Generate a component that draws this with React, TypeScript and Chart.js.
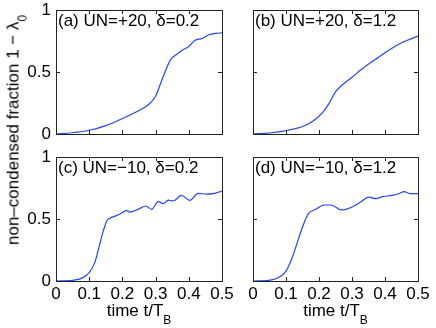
import React, { useEffect, useRef } from "react";
import { Chart, registerables } from "chart.js";
Chart.register(...registerables);

const W = 436;
const H = 328;
const FONT = '"Liberation Sans", Arial, Helvetica, sans-serif';
const LINE = "#2244ff";
const AXIS = "#222222";

const xTicks = [0, 0.1, 0.2, 0.3, 0.4, 0.5];
const yTicks = [0, 0.5, 1];

const titles = ["(a) UN=+20, δ=0.2", "(b) UN=+20, δ=1.2", "(c) UN=−10, δ=0.2", "(d) UN=−10, δ=1.2"];

// panel (a)
const tA = [0, 0.05, 0.1, 0.15, 0.2, 0.25, 0.28, 0.3, 0.318, 0.333, 0.345, 0.36, 0.38, 0.4, 0.418, 0.44, 0.46, 0.48, 0.5];
const vA = [0, 0.01, 0.03, 0.068, 0.125, 0.19, 0.24, 0.305, 0.43, 0.53, 0.6, 0.635, 0.675, 0.705, 0.755, 0.77, 0.8, 0.812, 0.815];
// panel (b)
const tB = [0, 0.05, 0.1, 0.15, 0.18, 0.21, 0.23, 0.25, 0.27, 0.3, 0.33, 0.37, 0.4, 0.44, 0.47, 0.5];
const vB = [0, 0.008, 0.027, 0.06, 0.1, 0.17, 0.245, 0.34, 0.395, 0.457, 0.524, 0.6, 0.656, 0.722, 0.758, 0.79];
// panel (c)
const tC = [0, 0.05, 0.08, 0.1, 0.117, 0.132, 0.142, 0.154, 0.165, 0.18, 0.197, 0.212, 0.222, 0.247, 0.27, 0.288, 0.308, 0.323, 0.338, 0.353, 0.378, 0.403, 0.428, 0.453, 0.473, 0.5];
const vC = [0, 0.005, 0.025, 0.067, 0.15, 0.3, 0.4, 0.49, 0.51, 0.525, 0.546, 0.57, 0.556, 0.578, 0.605, 0.578, 0.64, 0.624, 0.653, 0.645, 0.69, 0.65, 0.707, 0.7, 0.704, 0.726];
// panel (d)
const tD = [0, 0.048, 0.079, 0.1, 0.119, 0.139, 0.155, 0.168, 0.19, 0.215, 0.235, 0.25, 0.266, 0.281, 0.306, 0.326, 0.351, 0.372, 0.392, 0.422, 0.442, 0.458, 0.478, 0.5];
const vD = [0, 0.005, 0.03, 0.08, 0.19, 0.35, 0.47, 0.543, 0.578, 0.613, 0.613, 0.597, 0.573, 0.578, 0.605, 0.637, 0.677, 0.664, 0.68, 0.69, 0.704, 0.72, 0.704, 0.704];

const series = [
  [tA, vA],
  [tB, vB],
  [tC, vC],
  [tD, vD],
];

const areas = [
  { left: 56, top: 10, right: 222, bottom: 134, xl: false, yl: true },
  { left: 253, top: 10, right: 418, bottom: 134, xl: false, yl: false },
  { left: 56, top: 157, right: 222, bottom: 281, xl: true, yl: true },
  { left: 253, top: 157, right: 418, bottom: 281, xl: true, yl: false },
];

function fmt(v: number) {
  return String(Number(v.toFixed(2)));
}

function Panel({ idx }: { idx: number }) {
  const ref = useRef<HTMLCanvasElement | null>(null);
  useEffect(() => {
    const a = areas[idx];
    const [ts, vs] = series[idx];
    const title = titles[idx];
    const frame = {
      id: "frame" + idx,
      afterDraw(chart: any) {
        const ctx = chart.ctx;
        const xs = chart.scales.x;
        const ys = chart.scales.y;
        const l = Math.round(xs.getPixelForValue(0));
        const r = Math.round(xs.getPixelForValue(0.5));
        const b = Math.round(ys.getPixelForValue(0));
        const t = Math.round(ys.getPixelForValue(1));
        ctx.save();
        ctx.strokeStyle = AXIS;
        ctx.lineWidth = 1;
        ctx.beginPath();
        const tl = 4;
        xTicks.forEach((v) => {
          const px = Math.round(xs.getPixelForValue(v)) + 0.5;
          ctx.moveTo(px, b);
          ctx.lineTo(px, b - tl);
          ctx.moveTo(px, t);
          ctx.lineTo(px, t + tl);
        });
        yTicks.forEach((v) => {
          const py = Math.round(ys.getPixelForValue(v)) + 0.5;
          ctx.moveTo(l, py);
          ctx.lineTo(l + tl, py);
          ctx.moveTo(r, py);
          ctx.lineTo(r - tl, py);
        });
        ctx.stroke();
        ctx.fillStyle = "#000";
        ctx.font = "17px " + FONT;
        ctx.textBaseline = "alphabetic";
        ctx.textAlign = "left";
        ctx.fillText(title, l + 2, t + 16);
        ctx.restore();
      },
    };
    const chart = new Chart(ref.current as HTMLCanvasElement, {
      type: "line",
      data: {
        datasets: [
          {
            data: ts.map((x, i) => ({ x, y: vs[i] })),
            borderColor: LINE,
            borderWidth: 1.2,
            pointRadius: 0,
            fill: false,
            cubicInterpolationMode: "monotone",
          },
        ],
      },
      options: {
        responsive: false,
        animation: false,
        events: [],
        layout: { padding: { left: 0, top: a.top, right: W - a.right, bottom: 0 } },
        plugins: { legend: { display: false }, tooltip: { enabled: false }, title: { display: false } },
        scales: {
          x: {
            type: "linear",
            min: 0,
            max: 0.5,
            afterBuildTicks: (s: any) => {
              s.ticks = xTicks.map((v) => ({ value: v }));
            },
            afterFit: (s: any) => {
              s.height = H - a.bottom;
              s.paddingLeft = 0;
              s.paddingRight = 0;
            },
            grid: { display: false, drawTicks: false, tickLength: 0 },
            border: { display: false },
            ticks: {
              display: a.xl,
              autoSkip: false,
              maxRotation: 0,
              padding: 3,
              color: "#000",
              font: { family: FONT, size: 17 },
              callback: (v: any) => fmt(Number(v)),
            },
          },
          y: {
            type: "linear",
            min: 0,
            max: 1,
            afterBuildTicks: (s: any) => {
              s.ticks = yTicks.map((v) => ({ value: v }));
            },
            afterFit: (s: any) => {
              s.width = a.left;
              s.paddingTop = 0;
              s.paddingBottom = 0;
            },
            grid: { display: false, drawTicks: false, tickLength: 0 },
            border: { display: false },
            ticks: {
              display: a.yl,
              padding: 5,
              color: "#000",
              font: { family: FONT, size: 17 },
              callback: (v: any) => fmt(Number(v)),
            },
          },
        },
      },
      plugins: [frame],
    } as any);
    return () => chart.destroy();
  }, [idx]);
  return (
    <canvas
      ref={ref}
      width={W}
      height={H}
      style={{ position: "absolute", left: 0, top: 0, width: W, height: H }}
    />
  );
}

export default function App() {
  const txt: React.CSSProperties = {
    position: "absolute",
    fontFamily: FONT,
    fontSize: 17,
    lineHeight: "17px",
    whiteSpace: "nowrap",
    color: "#000",
  };
  const sub: React.CSSProperties = { fontSize: 12, position: "relative", top: 8 };
  return (
    <div style={{ position: "absolute", left: 0, top: 0, width: W, height: H, background: "#fff", overflow: "hidden" }}>
      {[0, 1, 2, 3].map((i) => (
        <Panel key={i} idx={i} />
      ))}
      {areas.map((a, i) => (
        <div
          key={"box" + i}
          style={{
            position: "absolute",
            left: a.left,
            top: a.top,
            width: a.right - a.left + 1,
            height: a.bottom - a.top + 1,
            boxSizing: "border-box",
            border: "1px solid " + AXIS,
            pointerEvents: "none",
          }}
        />
      ))}
      <div
        style={{
          ...txt,
          left: 14,
          top: 130,
          transform: "translate(-50%, -50%) rotate(-90deg)",
        }}
      >
        non–condensed fraction 1 − λ<span style={sub}>0</span>
      </div>
      <div style={{ ...txt, left: 139, top: 302, transform: "translateX(-50%)" }}>
        time t/T<span style={sub}>B</span>
      </div>
      <div style={{ ...txt, left: 335.5, top: 302, transform: "translateX(-50%)" }}>
        time t/T<span style={sub}>B</span>
      </div>
    </div>
  );
}
